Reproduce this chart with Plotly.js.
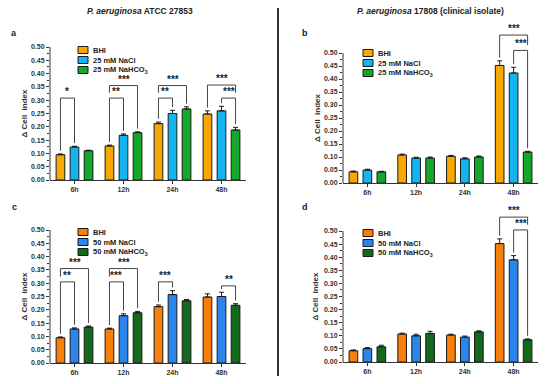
<!DOCTYPE html>
<html>
<head>
<meta charset="utf-8">
<script src="https://cdn.plot.ly/plotly-3.0.1.min.js"></script>
<style>html,body{margin:0;padding:0;background:#fff;}#chart{width:550px;height:384px;}</style>
</head>
<body>
<div id="chart"></div>
<script>
// ---------- data ----------
const categories = ['6h', '12h', '24h', '48h'];
const seriesNamesTop = ['BHI', '25 mM NaCl', '25 mM NaHCO<sub>3</sub>'];
const seriesNamesBottom = ['BHI', '50 mM NaCl', '50 mM NaHCO<sub>3</sub>'];
const yTickLabels = ['0.00','0.05','0.10','0.15','0.20','0.25','0.30','0.35','0.40','0.45','0.50'];
const yTickValues = [0, 0.05, 0.10, 0.15, 0.20, 0.25, 0.30, 0.35, 0.40, 0.45, 0.50];

// panel a: ATCC 27853, 25 mM
const aBHI    = [0.095, 0.128, 0.212, 0.248];
const aNaCl   = [0.124, 0.168, 0.250, 0.260];
const aNaHCO3 = [0.110, 0.178, 0.267, 0.188];
const aBHIErr    = [0.003, 0.003, 0.006, 0.012];
const aNaClErr   = [0.003, 0.005, 0.012, 0.017];
const aNaHCO3Err = [0.002, 0.003, 0.008, 0.010];

// panel b: 17808, 25 mM
const bBHI    = [0.043, 0.108, 0.103, 0.452];
const bNaCl   = [0.050, 0.096, 0.093, 0.423];
const bNaHCO3 = [0.043, 0.096, 0.100, 0.119];
const bBHIErr    = [0.003, 0.003, 0.003, 0.018];
const bNaClErr   = [0.003, 0.003, 0.004, 0.022];
const bNaHCO3Err = [0.002, 0.004, 0.004, 0.003];

// panel c: ATCC 27853, 50 mM
const cBHI    = [0.095, 0.128, 0.212, 0.248];
const cNaCl   = [0.128, 0.178, 0.257, 0.250];
const cNaHCO3 = [0.135, 0.189, 0.234, 0.217];
const cBHIErr    = [0.003, 0.003, 0.006, 0.012];
const cNaClErr   = [0.004, 0.007, 0.015, 0.016];
const cNaHCO3Err = [0.004, 0.005, 0.005, 0.006];

// panel d: 17808, 50 mM
const dBHI    = [0.043, 0.107, 0.103, 0.452];
const dNaCl   = [0.051, 0.100, 0.095, 0.390];
const dNaHCO3 = [0.058, 0.109, 0.115, 0.085];
const dBHIErr    = [0.003, 0.003, 0.003, 0.018];
const dNaClErr   = [0.004, 0.006, 0.004, 0.016];
const dNaHCO3Err = [0.006, 0.008, 0.004, 0.003];

// significance brackets: [categoryIndex, fromSeries, toSeries, level, label]
const sigA = [[0,0,1,0.308,'*'], [1,0,1,0.308,'**'], [1,0,2,0.355,'***'], [2,0,1,0.308,'**'], [2,0,2,0.355,'***'], [3,0,2,0.357,'***'], [3,1,2,0.308,'***']];
const sigB = [[3,0,2,0.569,'***'], [3,1,2,0.510,'***']];
const sigC = [[0,0,1,0.305,'**'], [0,0,2,0.355,'***'], [1,0,1,0.305,'***'], [1,0,2,0.355,'***'], [2,0,1,0.305,'***'], [3,1,2,0.290,'**']];
const sigD = [[3,0,2,0.553,'***'], [3,1,2,0.504,'***']];

const panelLetters = ['a', 'b', 'c', 'd'];
const titleLeft = '<i>P. aeruginosa</i> ATCC 27853';
const titleRight = '<i>P. aeruginosa</i> 17808 (clinical isolate)';
const yTitle = '\u0394 Cell  index';

// ---------- styling ----------
const W = 550, H = 384;
const px = x => x / W;
const py = y => 1 - y / H;
const FONT = 'Liberation Sans, Arial, sans-serif';
const colorsTop = ['#F8A800', '#14B4F0', '#14A82A'];
const colorsBottom = ['#F77F0A', '#2A86EC', '#14691C'];
const BARGAP = 0.14, GROUPGAP = 0.38;
const slot = (1 - BARGAP) / 3;

const panels = [
  {id:'', vals:[aBHI,aNaCl,aNaHCO3], errs:[aBHIErr,aNaClErr,aNaHCO3Err], names:seriesNamesTop, colors:colorsTop, sig:sigA,
   xd:[50,246], y0:180, ppu:266, ymax:0.5, legend:[78,50], letter:[14,33], ytitleX:24},
  {id:'2', vals:[bBHI,bNaCl,bNaHCO3], errs:[bBHIErr,bNaClErr,bNaHCO3Err], names:seriesNamesTop, colors:colorsTop, sig:sigB,
   xd:[343,538], y0:183, ppu:260, ymax:0.6, legend:[363,53], letter:[305,33], ytitleX:317},
  {id:'3', vals:[cBHI,cNaCl,cNaHCO3], errs:[cBHIErr,cNaClErr,cNaHCO3Err], names:seriesNamesBottom, colors:colorsBottom, sig:sigC,
   xd:[50,246], y0:363, ppu:266, ymax:0.5, legend:[78,232], letter:[14,207], ytitleX:24},
  {id:'4', vals:[dBHI,dNaCl,dNaHCO3], errs:[dBHIErr,dNaClErr,dNaHCO3Err], names:seriesNamesBottom, colors:colorsBottom, sig:sigD,
   xd:[343,538], y0:362, ppu:262, ymax:0.6, legend:[363,233], letter:[305,207], ytitleX:315}
];

const traces = [];
const shapes = [];
const annotations = [];
const layout = {
  width: W, height: H,
  margin: {l:0, r:0, t:0, b:0},
  paper_bgcolor: '#fff', plot_bgcolor: '#fff',
  showlegend: false,
  barmode: 'group', bargap: BARGAP, bargroupgap: GROUPGAP,
  font: {family: FONT, color: '#222'},
  shapes: shapes, annotations: annotations
};

const minorVals = [];
for (let i = 0; i < yTickValues.length - 1; i++) minorVals.push((yTickValues[i] + yTickValues[i+1]) / 2);

panels.forEach((p, pi) => {
  const xa = 'x' + p.id, ya = 'y' + p.id;
  const top = p.y0 - p.ymax * p.ppu;
  layout['xaxis' + p.id] = {
    domain: [px(p.xd[0]), px(p.xd[1])], anchor: ya, type: 'category',
    showline: true, linecolor: '#333', linewidth: 1,
    ticks: 'outside', ticklen: 3, tickcolor: '#333', tickwidth: 1,
    tickfont: {family: FONT, size: 7, weight: 'bold', color: '#333'},
    showgrid: false, zeroline: false, fixedrange: true
  };
  layout['yaxis' + p.id] = {
    domain: [py(p.y0), py(top)], anchor: xa, range: [0, p.ymax],
    showline: false,
    tickvals: yTickValues, ticktext: yTickLabels,
    ticks: 'outside', ticklen: 3, tickcolor: '#333', tickwidth: 1,
    minor: {tickvals: minorVals, ticks: 'outside', ticklen: 2, tickcolor: '#333', tickwidth: 1, showgrid: false},
    tickfont: {family: FONT, size: 7, weight: 'bold', color: '#333'},
    showgrid: false, zeroline: false, fixedrange: true
  };
  // y axis line (0 to 0.50)
  shapes.push({type:'line', xref: xa + ' domain', yref: ya, x0:0, x1:0, y0:0, y1:0.5,
               line:{color:'#333', width:1}});
  // y title
  annotations.push({xref:'paper', yref:'paper', x: px(p.ytitleX), y: py(p.y0 - 0.25 * p.ppu),
    text: yTitle, textangle: -90, showarrow: false, xanchor:'center', yanchor:'middle',
    font:{family: FONT, size: 8, weight:'bold', color:'#333'}});
  // panel letter
  annotations.push({xref:'paper', yref:'paper', x: px(p.letter[0]), y: py(p.letter[1]),
    text: panelLetters[pi], showarrow:false, xanchor:'center', yanchor:'middle',
    font:{family: FONT, size: 9, weight:'bold', color:'#222'}});

  // bars
  p.vals.forEach((v, k) => {
    traces.push({
      type: 'bar', x: categories, y: v, xaxis: xa, yaxis: ya, name: p.names[k],
      marker: {color: p.colors[k], line: {color: '#1a1a1a', width: 1}},
      error_y: {type:'data', symmetric:false, array: p.errs[k], arrayminus: v.map(() => 0),
                color:'#1a1a1a', thickness:1, width:2.5},
      hoverinfo: 'skip'
    });
  });

  // legend
  p.names.forEach((n, k) => {
    const ly = p.legend[1] + k * 10;
    shapes.push({type:'rect', xref:'paper', yref:'paper',
      x0: px(p.legend[0]), x1: px(p.legend[0] + 10), y0: py(ly + 3.5), y1: py(ly - 3.5),
      fillcolor: p.colors[k], line:{color:'#1a1a1a', width:1}});
    annotations.push({xref:'paper', yref:'paper', x: px(p.legend[0] + 13), y: py(ly),
      text: n, showarrow:false, xanchor:'left', yanchor:'middle',
      font:{family: FONT, size: 7.5, weight:'bold', color:'#222'}});
  });

  // significance brackets
  const barX = (c, k) => c + (k - 1) * slot;
  const gap = 0.012;
  p.sig.forEach(s => {
    const [c, f, t, lev, lab] = s;
    const legBottom = k => {
      let b = p.vals[k][c] + p.errs[k][c] + gap;
      p.sig.forEach(o => {
        if (o !== s && o[0] === c && o[3] < lev && (o[1] === k || o[2] === k)) b = Math.max(b, o[3] + 0.02);
      });
      return b;
    };
    const x0 = barX(c, f), x1 = barX(c, t);
    shapes.push({type:'path', xref: xa, yref: ya,
      path: `M${x0},${legBottom(f)} L${x0},${lev} L${x1},${lev} L${x1},${legBottom(t)}`,
      line:{color:'#444', width:1}});
    annotations.push({xref: xa, yref: ya, x: (x0 + x1) / 2, y: lev, text: lab, showarrow:false,
      xanchor:'center', yanchor:'bottom', yshift: -1,
      font:{family: FONT, size: 10, weight:'bold', color:'#222'}});
  });
});

// column titles
annotations.push({xref:'paper', yref:'paper', x: px(140), y: py(11), text: titleLeft, showarrow:false,
  xanchor:'center', yanchor:'middle', font:{family: FONT, size: 8.5, weight:'bold', color:'#222'}});
annotations.push({xref:'paper', yref:'paper', x: px(430), y: py(11), text: titleRight, showarrow:false,
  xanchor:'center', yanchor:'middle', font:{family: FONT, size: 8.5, weight:'bold', color:'#222'}});
// separator
shapes.push({type:'line', xref:'paper', yref:'paper', x0: px(278), x1: px(278), y0: py(8), y1: py(376),
  line:{color:'#333', width:2}});

Plotly.newPlot('chart', traces, layout, {staticPlot: true});
</script>
</body>
</html>
